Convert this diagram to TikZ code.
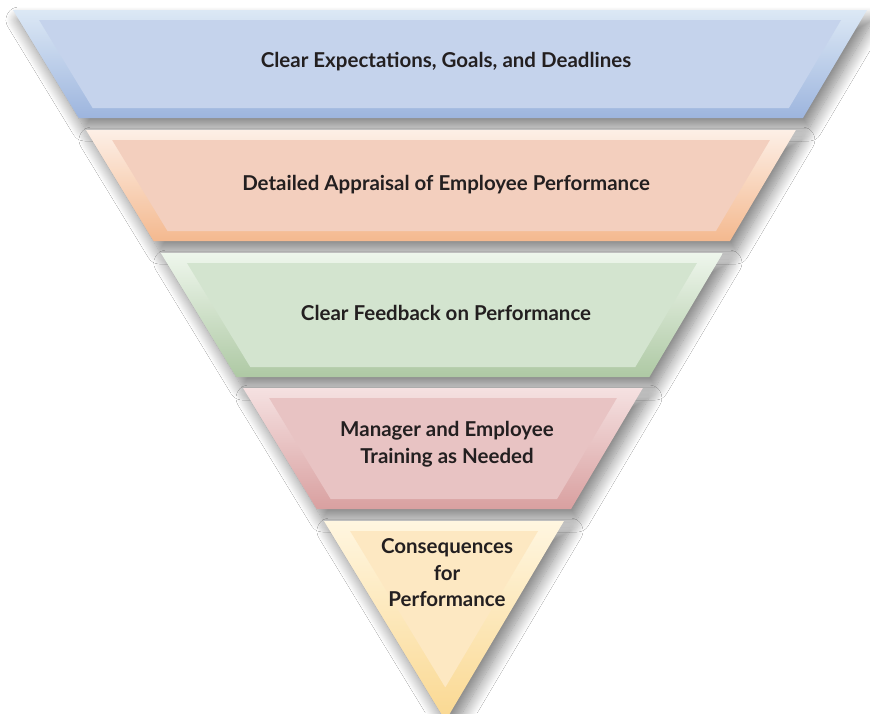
\documentclass[tikz,border=0pt]{standalone}
\usepackage{fontspec}
\setmainfont{Lato}
\usetikzlibrary{shadows.blur}
\definecolor{txt}{HTML}{231F20}
\definecolor{bAt}{HTML}{DCE8F5}\definecolor{bAb}{HTML}{9DB5DE}\definecolor{bAi}{HTML}{C5D3EC}
\definecolor{bBt}{HTML}{FDEFE6}\definecolor{bBb}{HTML}{F4B98F}\definecolor{bBi}{HTML}{F3CFBE}
\definecolor{bCt}{HTML}{EEF6EC}\definecolor{bCb}{HTML}{AEC9A4}\definecolor{bCi}{HTML}{D3E4CF}
\definecolor{bDt}{HTML}{F5E1E1}\definecolor{bDb}{HTML}{D9A0A0}\definecolor{bDi}{HTML}{E8C3C3}
\definecolor{bEt}{HTML}{FFF6E0}\definecolor{bEb}{HTML}{FAD891}\definecolor{bEi}{HTML}{FDE8C2}
\tikzset{
  bandshadow/.style={blur shadow={shadow xshift=6pt,shadow yshift=-10pt,shadow blur radius=13pt,shadow opacity=50,shadow blur steps=16}},
  lbl/.style={font=\fontsize{20.5}{26.5}\selectfont\bfseries,text=txt,align=center,inner sep=0pt}
}
% #1 ytop, #2 ybot outer, #3 inner bottom y, #4 top col, #5 bottom col, #6 inner col
\newcommand\funnelband[6]{%
  \pgfmathsetmacro\otl{13+0.6086*(#1-10)}%
  \pgfmathsetmacro\otr{867-0.593*(#1-10)}%
  \pgfmathsetmacro\obl{13+0.6086*(#2-10)}%
  \pgfmathsetmacro\obr{867-0.593*(#2-10)}%
  \pgfmathsetmacro\itl{33+0.6086*(#1+10-10)}%
  \pgfmathsetmacro\itr{847-0.593*(#1+10-10)}%
  \pgfmathsetmacro\ibl{33+0.6086*(#3-10)}%
  \pgfmathsetmacro\ibr{847-0.593*(#3-10)}%
  \path[bandshadow,top color=#4,bottom color=#5]
    (\otl,#1) -- (\otr,#1) -- (\obr,#2) -- (\obl,#2) -- cycle;
  \fill[#6] (\itl,#1+10) -- (\itr,#1+10) -- (\ibr,#3) -- (\ibl,#3) -- cycle;
}
\begin{document}
\begin{tikzpicture}[x=1pt,y=-1pt]
\useasboundingbox[fill=white] (0,0) rectangle (870,713);
\begin{scope}
\clip (0,0) rectangle (870,713);
\funnelband{10}{118}{108}{bAt}{bAb}{bAi}
\funnelband{130}{241}{231}{bBt}{bBb}{bBi}
\funnelband{253}{377}{367}{bCt}{bCb}{bCi}
\funnelband{388}{509}{499}{bDt}{bDb}{bDi}
\funnelband{521}{720.7}{687}{bEt}{bEb}{bEi}
\end{scope}
\node[lbl] (t1) at (446,62) {Clear Expectations, Goals, and Deadlines};
\node[lbl] (t2) at (446,185) {Detailed Appraisal of Employee Performance};
\node[lbl] (t3) at (446,313) {Clear Feedback on Performance};
\node[lbl] (t4) at (447,444) {Manager and Employee\\Training as Needed};
\node[lbl] (t5) at (447,573) {Consequences\\for\\Performance};
\end{tikzpicture}
\end{document}
